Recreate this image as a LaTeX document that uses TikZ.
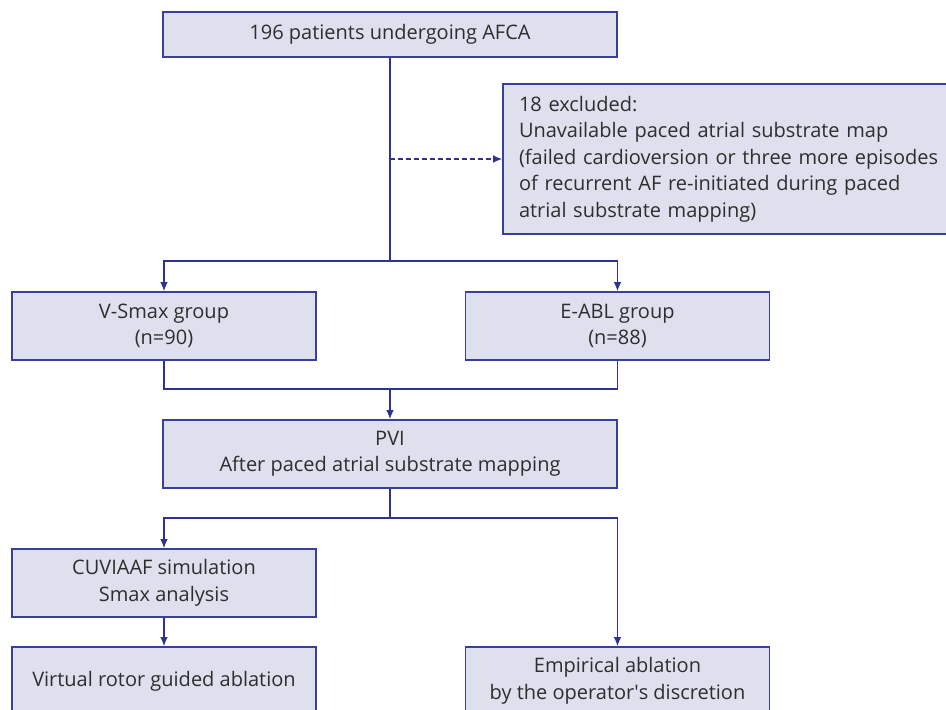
\documentclass[tikz,border=0pt]{standalone}
\usepackage{fontspec}
\setmainfont{Open Sans}
\usetikzlibrary{arrows.meta}
\definecolor{boxfill}{HTML}{DFE0EE}
\definecolor{boxline}{HTML}{3A3F9A}
\definecolor{conn}{HTML}{2E3392}
\definecolor{txt}{HTML}{2E2E2E}
\begin{document}
\begin{tikzpicture}[x=1pt,y=-1pt,
  box/.style={draw=boxline,line width=1.6pt,fill=boxfill,text=txt,align=center,
    inner sep=0pt,font=\fontsize{20}{26.5}\selectfont},
  wbox/.style={box,minimum width=454pt},
  nbox/.style={box,minimum width=304pt,minimum height=68pt},
  link/.style={draw=conn,line width=1.3pt},
  arr/.style={link,-{Latex[length=9pt,width=7.5pt]}},
  darr/.style={arr,dash pattern=on 5pt off 3pt}]
\clip (0,0) rectangle (946,710);
\useasboundingbox (0,0) rectangle (946,710);
\fill[white] (0,0) rectangle (946,710);

\node[wbox,minimum height=45pt] (top) at (390,34.5) {196 patients undergoing AFCA};
\node[box,minimum height=150pt,text width=430pt,inner xsep=16pt,align=left] (excl) at (734,159)
  {18 excluded:\\Unavailable paced atrial substrate map\\(failed cardioversion or three more episodes\\of recurrent AF re-initiated during paced\\atrial substrate mapping)};
\node[nbox] (vsmax) at (164,326) {V-Smax group\\(n=90)};
\node[nbox] (eabl) at (617.5,326) {E-ABL group\\(n=88)};
\node[wbox,minimum height=68pt] (pvi) at (390,454) {PVI\\After paced atrial substrate mapping};
\node[nbox] (cuv) at (164,583) {CUVIAAF simulation\\Smax analysis};
\node[nbox] (virt) at (164,681) {Virtual rotor guided ablation};
\node[nbox] (emp) at (617.5,681) {Empirical ablation\\by the operator\textquotesingle s discretion};

\coordinate (split1) at (390,261);
\coordinate (dash0) at (390,159);
\coordinate (merge) at (390,389);
\coordinate (split2) at (390,518);

\draw[link] (top.south) -- (split1);
\draw[arr] (split1) -| (vsmax.north);
\draw[arr] (split1) -| (eabl.north);
\draw[darr] (dash0) -- (excl.west);
\draw[link] (vsmax.south) |- (merge);
\draw[link] (eabl.south) |- (merge);
\draw[arr] (merge) -- (pvi.north);
\draw[link] (pvi.south) -- (split2);
\draw[arr] (split2) -| (cuv.north);
\draw[arr] (split2) -| (emp.north);
\draw[arr] (cuv.south) -- (virt.north);
\end{tikzpicture}
\end{document}
